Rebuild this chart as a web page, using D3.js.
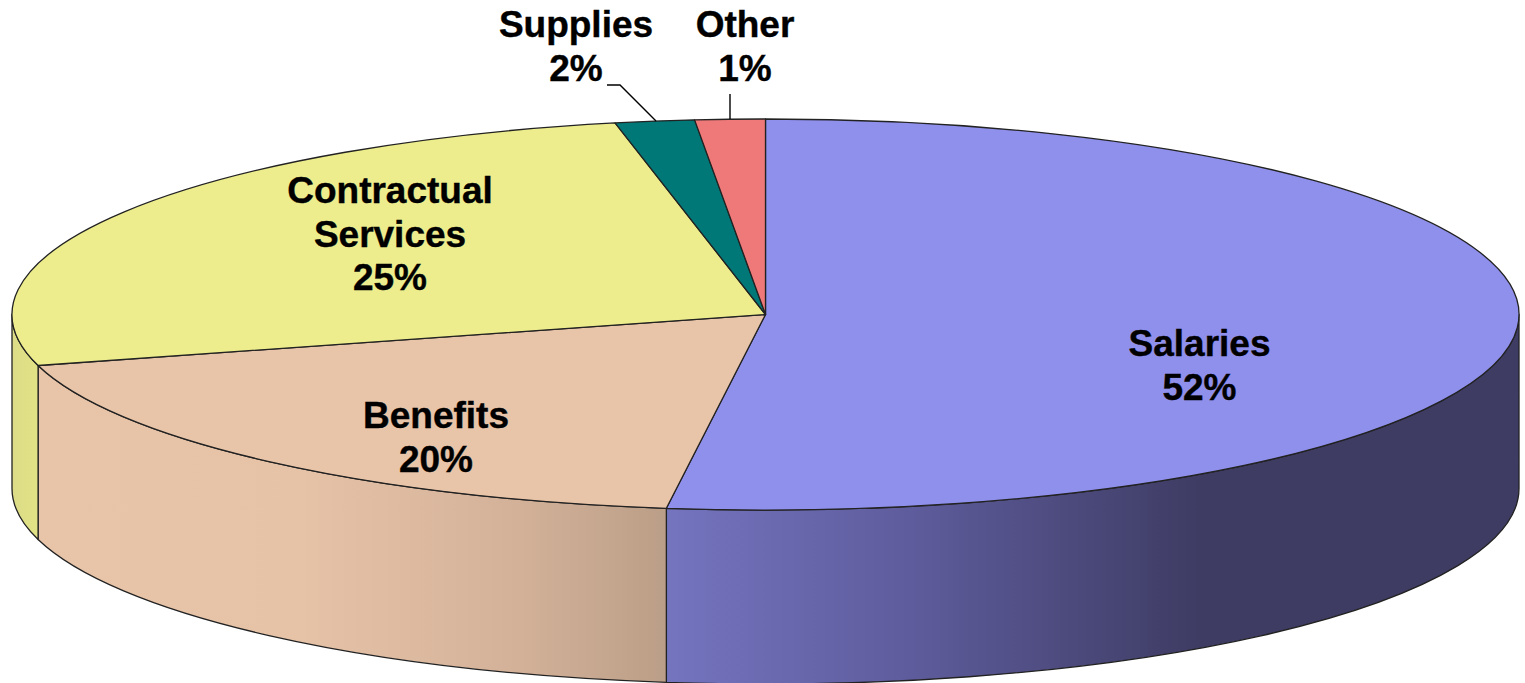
<!DOCTYPE html>
<html>
<head>
<meta charset="utf-8">
<script src="https://cdn.jsdelivr.net/npm/d3@7"></script>
<style>
    html, body { margin: 0; padding: 0; background: #fff; overflow: hidden; }
    text { font-family: "Liberation Sans", Arial, sans-serif; font-weight: bold; font-size: 37px; fill: #000; stroke: #000; stroke-width: 0.4px; }
</style>
</head>
<body>
<div id="chart"></div>
<script>
const categories = ['Salaries', 'Benefits', 'Contractual Services', 'Supplies', 'Other'];
const percentLabels = [52, 20, 25, 2, 1];
// slice sizes as drawn in the picture (perspective makes them differ a bit from the printed labels)
const drawnShares = [52.1, 18.7, 26.0, 1.7, 1.5];
const topColors = ['#8f8fec', '#e8c4a8', '#eded8d', '#007878', '#ef7878'];

const width = 1525;
const height = 683;
const cx = 765.5;
const cy = 314.5;
const rx = 753.5;
const ry = 195.5;
const depth = 174;

const svg = d3.select('#chart').append('svg')
    .attr('width', width)
    .attr('height', height);

const pie = d3.pie().sort(null).value(d => d);
const slices = pie(drawnShares);

const defs = svg.append('defs');

function wallGradient(id, stops) {
    const g = defs.append('linearGradient')
        .attr('id', id)
        .attr('gradientUnits', 'userSpaceOnUse')
        .attr('x1', 0).attr('x2', width)
        .attr('y1', 0).attr('y2', 0);
    stops.forEach(s => g.append('stop').attr('offset', s[0] / width).attr('stop-color', s[1]));
}

wallGradient('wall-0', [[667, '#7474bf'], [900, '#5f5d9e'], [1200, '#3e3c63'], [1525, '#3e3c63']]);
wallGradient('wall-1', [[38, '#e8c4a8'], [300, '#e6c3a7'], [520, '#d3b199'], [667, '#bb9e87']]);
wallGradient('wall-2', [[12, '#dcdc88'], [38, '#e2e285']]);

// point on the rim, angle measured clockwise from the top
const rimX = a => cx + rx * Math.sin(a);
const rimY = (a, dy = 0) => cy - ry * Math.cos(a) + dy;

// only the front half of the rim has a visible wall
function wallPath(d) {
    const a0 = Math.max(d.startAngle, Math.PI / 2);
    const a1 = Math.min(d.endAngle, Math.PI * 1.5);
    if (a1 <= a0) return null;
    return `M${rimX(a0)},${rimY(a0)}`
        + `A${rx},${ry} 0 0 1 ${rimX(a1)},${rimY(a1)}`
        + `L${rimX(a1)},${rimY(a1, depth)}`
        + `A${rx},${ry} 0 0 0 ${rimX(a0)},${rimY(a0, depth)}Z`;
}

svg.append('g').selectAll('path')
    .data(slices.filter(d => wallPath(d)))
    .join('path')
    .attr('d', wallPath)
    .attr('fill', d => `url(#wall-${d.index})`)
    .attr('stroke', '#222')
    .attr('stroke-width', 1.3)
    .attr('stroke-linejoin', 'round');

const arc = d3.arc().innerRadius(0).outerRadius(rx);

svg.append('g')
    .attr('transform', `translate(${cx},${cy}) scale(1,${ry / rx})`)
    .selectAll('path')
    .data(slices)
    .join('path')
    .attr('d', arc)
    .attr('fill', (d, i) => topColors[i])
    .attr('stroke', '#222')
    .attr('stroke-width', 1.3)
    .attr('stroke-linejoin', 'round')
    .attr('vector-effect', 'non-scaling-stroke');

// leader lines for the two small slices
const leaders = [
    'M607,85H620L656,121',
    'M730,94V119'
];
svg.append('g').selectAll('path')
    .data(leaders)
    .join('path')
    .attr('d', d => d)
    .attr('fill', 'none')
    .attr('stroke', '#000')
    .attr('stroke-width', 1.4);

// label anchor: centre x and first baseline for each slice
const labelAnchors = [
    { x: 1199.5, y: 356, lines: ['Salaries'] },
    { x: 436, y: 428, lines: ['Benefits'] },
    { x: 390, y: 203, lines: ['Contractual', 'Services'] },
    { x: 576, y: 37, lines: ['Supplies'] },
    { x: 745, y: 37, lines: ['Other'] }
];

labelAnchors.forEach((l, i) => {
    const t = svg.append('text').attr('text-anchor', 'middle');
    l.lines.concat(percentLabels[i] + '%').forEach((line, j) => {
        t.append('tspan')
            .attr('x', l.x)
            .attr('y', l.y + j * 43.5)
            .text(line);
    });
});
</script>
</body>
</html>
